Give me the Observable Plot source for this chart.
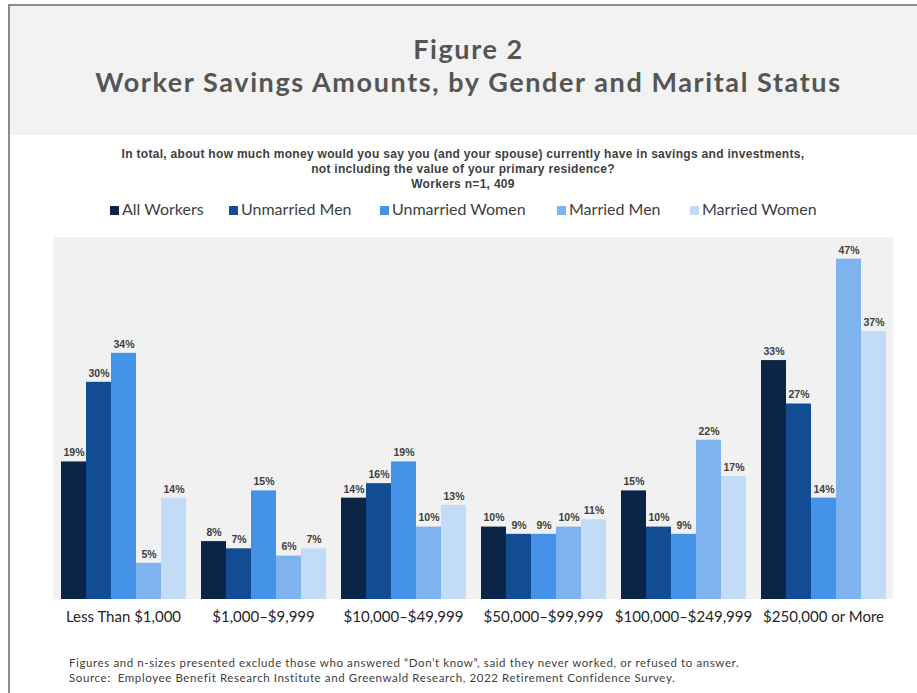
<!DOCTYPE html>
<html><head><meta charset="utf-8">
<script src="https://cdn.jsdelivr.net/npm/d3@7"></script>
<script src="https://cdn.jsdelivr.net/npm/@observablehq/plot@0.6"></script>
<style>
body{margin:0;background:#fff;}
#wrap{position:relative;width:917px;height:693px;overflow:hidden;background:#fff;}
#border{position:absolute;left:8px;top:4px;width:920px;height:700px;border-left:2px solid #8c8c8c;border-top:2px solid #8c8c8c;box-sizing:border-box;}
#head{position:absolute;left:10px;top:6px;width:907px;height:129px;background:#f2f2f2;}
.t{position:absolute;left:10px;width:917px;text-align:center;font-family:Lato,sans-serif;font-weight:700;color:#555;font-size:27px;letter-spacing:1.6px;}
#q{position:absolute;left:0;top:147px;width:926px;text-align:center;font-family:"Liberation Sans",Arial,sans-serif;font-weight:700;font-size:12px;letter-spacing:0.3px;line-height:15px;color:#404040;}
#legend{position:absolute;top:199px;left:0;width:917px;height:20px;font-family:Lato,sans-serif;font-size:16px;color:#404040;}
.li{position:absolute;top:0;white-space:nowrap;}
.sw{display:inline-block;width:9px;height:9px;margin-right:3px;vertical-align:0px;}
#bg{position:absolute;left:53px;top:237px;width:840px;height:362px;background:#f1f1f1;}
#chart{position:absolute;left:0;top:220px;}
#foot{position:absolute;left:69px;top:655px;font-family:Lato,sans-serif;font-size:11.5px;letter-spacing:0.6px;line-height:15px;color:#404040;white-space:nowrap;}
</style></head>
<body><div id="wrap">
<div id="border"></div>
<div id="head"></div>
<div class="t" style="top:32px;">Figure 2</div>
<div class="t" style="top:65px;">Worker Savings Amounts, by Gender and Marital Status</div>
<div id="q">In total, about how much money would you say you (and your spouse) currently have in savings and investments,<br>not including the value of your primary residence?<br>Workers n=1, 409</div>
<div id="legend"></div>
<div id="bg"></div>
<div id="chart"></div>
<div id="foot">Figures and n-sizes presented exclude those who answered “Don’t know”, said they never worked, or refused to answer.<br>Source:&nbsp; Employee Benefit Research Institute and Greenwald Research, 2022 Retirement Confidence Survey.</div>
</div>
<script>
const categories = ["Less Than $1,000","$1,000–$9,999","$10,000–$49,999","$50,000–$99,999","$100,000–$249,999","$250,000 or More"];
const seriesNames = ["All Workers","Unmarried Men","Unmarried Women","Married Men","Married Women"];
const seriesColors = ["#0b2547","#124d94","#4493e8","#7fb3ef","#c2dbf7"];
const allWorkers = [19,8,14,10,15,33];
const unmarriedMen = [30,7,16,9,10,27];
const unmarriedWomen = [34,15,19,9,9,14];
const marriedMen = [5,6,10,10,22,47];
const marriedWomen = [14,7,13,11,17,37];
const legendX = [110,229,380,557,690];

const seriesValues = [allWorkers, unmarriedMen, unmarriedWomen, marriedMen, marriedWomen];
const data = [];
categories.forEach((c,i)=>seriesNames.forEach((s,j)=>data.push({category:c, series:s, value:seriesValues[j][i]})));

const leg = document.getElementById("legend");
seriesNames.forEach((s,i)=>{
  const d = document.createElement("div");
  d.className="li"; d.style.left=legendX[i]+"px";
  d.innerHTML = `<span class="sw" style="background:${seriesColors[i]}"></span>${s}`;
  leg.appendChild(d);
});

const chart = Plot.plot({
  width: 917, height: 430,
  marginLeft: 53, marginRight: 24, marginTop: 17, marginBottom: 51,
  style: {background: "transparent", fontFamily: "Lato, sans-serif"},
  fx: {domain: categories, paddingInner: 0.088, paddingOuter: 0.044, axis: "bottom", label: null, tickSize: 0, tickPadding: 12},
  x: {domain: seriesNames, padding: 0, axis: null},
  y: {domain: [0, 50], axis: null},
  color: {domain: seriesNames, range: seriesColors},
  marks: [
    Plot.barY(data, {fx: "category", x: "series", y: "value", fill: "series", inset: 0}),
    Plot.text(data, {fx: "category", x: "series", y: "value", text: d => d.value + "%", dy: -9,
      fontFamily: "Liberation Sans, Arial, sans-serif", fontWeight: 700, fontSize: 10.5, fill: "#404040"})
  ]
});
chart.querySelectorAll('g[aria-label="fx-axis tick label"] text, g[aria-label="fx-axis tick label"]').forEach(e=>{e.style.fontSize="15px"; e.setAttribute("fill","#262626");});
document.getElementById("chart").appendChild(chart);
</script>
</body></html>
